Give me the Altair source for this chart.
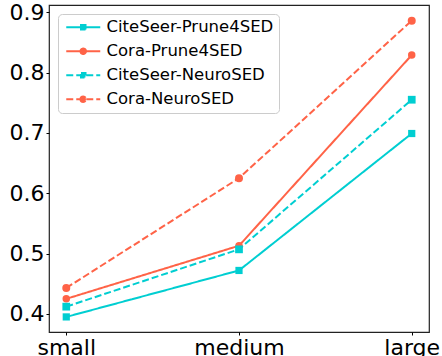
import altair as alt
import pandas as pd

categories = ["small", "medium", "large"]
series_names = ["CiteSeer-Prune4SED", "Cora-Prune4SED", "CiteSeer-NeuroSED", "Cora-NeuroSED"]
citeseer_prune = [0.395, 0.472, 0.699]
cora_prune = [0.425, 0.513, 0.829]
citeseer_neuro = [0.412, 0.507, 0.755]
cora_neuro = [0.443, 0.625, 0.886]
y_ticks = [0.4, 0.5, 0.6, 0.7, 0.8, 0.9]

colors = ["#00CED1", "#FF6347", "#00CED1", "#FF6347"]
dashes = [[1, 0], [1, 0], [7, 3], [7, 3]]
shapes = ["square", "circle", "square", "circle"]
sizes = [52, 64, 52, 64]

sq_path = "M-3.4,0H3.4M-0.45,-0.45H0.45V0.45H-0.45Z"
ci_path = "M-3.4,0H3.4M-0.55,0A0.55,0.55 0 1,1 0.55,0A0.55,0.55 0 1,1 -0.55,0Z"
legend_paths = [sq_path, ci_path, sq_path, ci_path]

rows = []
for name, vals in zip(series_names, [citeseer_prune, cora_prune, citeseer_neuro, cora_neuro]):
    for c, v in zip(categories, vals):
        rows.append({"size": c, "value": v, "series": name})
df = pd.DataFrame(rows)

font = "DejaVu Sans"

x_enc = alt.X("size:N", sort=categories, title=None,
              scale=alt.Scale(type="point", padding=0.1),
              axis=alt.Axis(labelAngle=0, labelFontSize=22, labelFont=font, labelColor="black",
                            tickColor="black", tickSize=3, tickWidth=1, labelPadding=2,
                            domain=False, grid=False))
y_enc = alt.Y("value:Q", title=None,
              scale=alt.Scale(domain=[0.370, 0.912], nice=False, zero=False),
              axis=alt.Axis(values=y_ticks, format=".1f", labelFontSize=22, labelFont=font,
                            labelColor="black", tickColor="black", tickSize=3, tickWidth=1,
                            labelPadding=2, domain=False, grid=False))

color_scale = alt.Scale(domain=series_names, range=colors)

base = alt.Chart(df)

lines = base.mark_line(strokeWidth=2).encode(
    x=x_enc, y=y_enc,
    color=alt.Color("series:N", scale=color_scale, legend=None),
    strokeDash=alt.StrokeDash("series:N", scale=alt.Scale(domain=series_names, range=dashes), legend=None),
)

points = base.mark_point(filled=True, opacity=1).encode(
    x=x_enc, y=y_enc,
    color=alt.Color("series:N", scale=color_scale, legend=None),
    shape=alt.Shape("series:N", scale=alt.Scale(domain=series_names, range=shapes), legend=None),
    size=alt.Size("series:N", scale=alt.Scale(domain=series_names, range=sizes), legend=None),
)

legend_layer = base.transform_filter("false").mark_point(filled=True, opacity=1).encode(
    x=x_enc, y=y_enc,
    color=alt.Color("series:N", scale=color_scale, title=None),
    stroke=alt.Stroke("series:N", scale=color_scale, title=None),
    shape=alt.Shape("series:N", scale=alt.Scale(domain=series_names, range=legend_paths), title=None),
    strokeDash=alt.StrokeDash("series:N", scale=alt.Scale(domain=series_names, range=dashes), title=None),
)

chart = alt.layer(lines, points, legend_layer).resolve_scale(
    color="independent", shape="independent", strokeDash="independent", size="independent", stroke="independent"
).properties(
    width=380, height=327,
    autosize=alt.AutoSizeParams(type="none"),
    padding={"left": 49, "top": 5, "right": 13, "bottom": 24},
).configure_view(
    stroke="#222222", strokeWidth=1.2
).configure_legend(
    orient="none", legendX=9, legendY=9,
    padding=5, fillColor="white", strokeColor="#cccccc", cornerRadius=4,
    labelFont=font, labelFontSize=16.5, labelColor="black",
    symbolSize=100, symbolStrokeWidth=2, symbolOffset=12, labelOffset=15,
    rowPadding=7, labelLimit=400,
)

chart.save("out.html", embed_options={"renderer": "svg", "actions": False})
